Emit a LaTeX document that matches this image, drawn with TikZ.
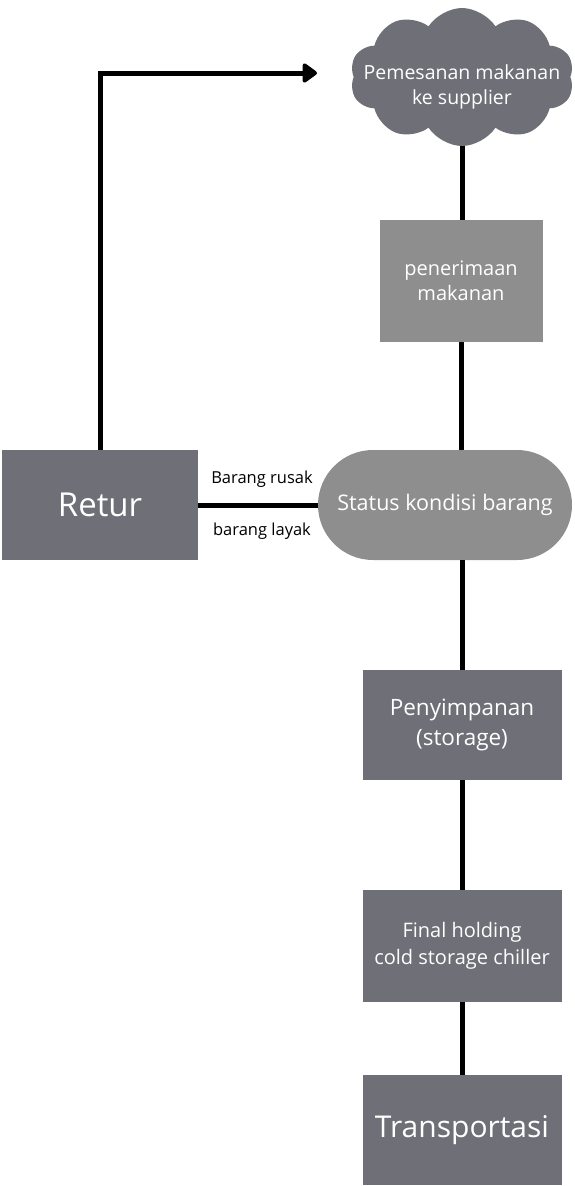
\documentclass[tikz,border=0pt]{standalone}
\usepackage{fontspec}
\setmainfont{Open Sans}
\usetikzlibrary{shapes.symbols, shapes.misc, arrows.meta}
\definecolor{boxgray}{HTML}{6E6F77}
\definecolor{lightgray}{HTML}{8E8E8E}

\begin{document}
\begin{tikzpicture}[x=1pt, y=-1pt,
    box/.style={rectangle, fill=boxgray, text=white, align=center, inner sep=2pt},
    link/.style={line width=5pt, black},
    tag/.style={font=\fontsize{16.5}{20}\selectfont, xshift=4pt}]
            \useasboundingbox (0,0) rectangle (574,1186);

            %nodes
            \node[cloud, cloud puffs=10, cloud puff arc=115, aspect=1.7, fill=boxgray, minimum width=224pt, minimum height=138pt,
                  inner sep=0pt, label={[text=white, align=center, font=\fontsize{19.5}{25}\selectfont, yshift=-10pt]center:Pemesanan makanan\\ke supplier}] (pesan) at (462, 77) {};
            \node[box, fill=lightgray, minimum width=163pt, minimum height=122pt, font=\fontsize{20}{25}\selectfont] (terima) at (461, 281) {penerimaan\\makanan};
            \node[rounded rectangle, fill=lightgray, text=white, minimum width=254pt, minimum height=110pt,
                  inner sep=0pt, font=\fontsize{21.5}{26}\selectfont] (status) at (445, 505) {Status kondisi barang};
            \node[box, minimum width=196pt, minimum height=110pt, font=\fontsize{33}{38}\selectfont] (retur) at (100, 505) {Retur};
            \node[box, minimum width=199pt, minimum height=110pt, font=\fontsize{22.5}{30}\selectfont] (simpan) at (462, 725) {Penyimpanan\\(storage)};
            \node[box, minimum width=199pt, minimum height=112pt, font=\fontsize{20}{27}\selectfont] (final) at (462, 946) {Final holding\\cold storage chiller};
            \node[box, minimum width=199pt, minimum height=110pt, font=\fontsize{30}{34}\selectfont] (trans) at (462, 1130) {Transportasi};
            \coordinate (tip) at (317, 73);

            %edges
            \draw[link] (pesan.south) -- (pesan.south |- terima.north);
            \draw[link] (terima.south) -- (terima.south |- status.north);
            \draw[link] (simpan.north |- status.south) -- (simpan.north);
            \draw[link] (simpan) -- (final);
            \draw[link] (final) -- (trans);
            \draw[link] (retur) -- (status)
                node[midway, above=12pt, tag] {Barang rusak}
                node[midway, below=12pt, tag] {barang layak};
            \draw[link, -{Triangle[length=16pt, width=22pt, round]}] (retur.north) |- (tip);
        \end{tikzpicture}
\end{document}
